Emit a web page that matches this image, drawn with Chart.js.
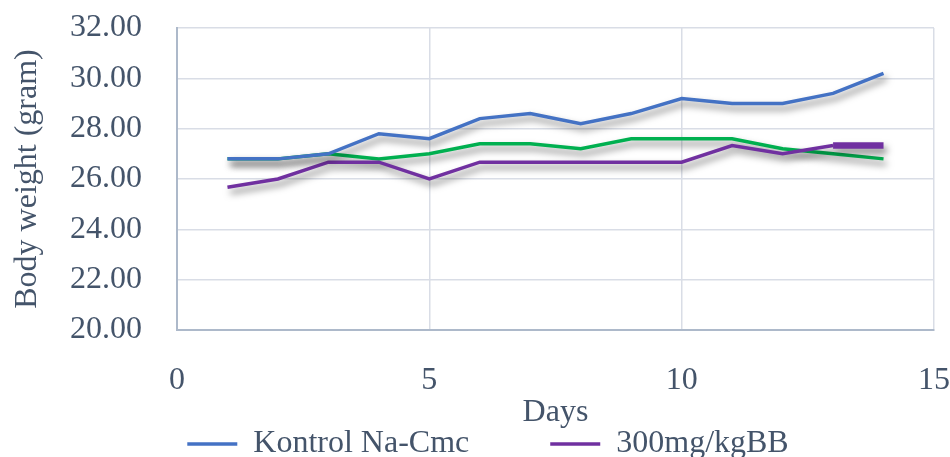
<!DOCTYPE html>
<html>
<head>
<meta charset="utf-8">
<script src="https://cdn.jsdelivr.net/npm/chart.js@4/dist/chart.umd.min.js"></script>
<style>
  html, body { margin: 0; padding: 0; background: #ffffff; overflow: hidden; }
  #wrap { width: 950px; height: 457px; overflow: hidden; position: relative; }
  canvas { display: block; }
</style>
</head>
<body>
<div id="wrap"><canvas id="c" width="950" height="457"></canvas></div>
<script>
// ---- data ----
const days = [1, 2, 3, 4, 5, 6, 7, 8, 9, 10, 11, 12, 13, 14];
const kontrolNaCmc = [26.8, 26.8, 27.0, 27.8, 27.6, 28.4, 28.6, 28.2, 28.6, 29.2, 29.0, 29.0, 29.4, 30.2];
const dose300 = [25.67, 26.0, 26.67, 26.67, 26.0, 26.67, 26.67, 26.67, 26.67, 26.67, 27.33, 27.0, 27.33, 27.33];
const series3 = [26.8, 26.8, 27.0, 26.8, 27.0, 27.4, 27.4, 27.2, 27.6, 27.6, 27.6, 27.2, 27.0, 26.8];
const seriesLabels = ['Kontrol Na-Cmc', '300mg/kgBB', 'Seri 3'];
const yTicks = [20, 22, 24, 26, 28, 30, 32];
const xTicks = [0, 5, 10, 15];
const xTitle = 'Days';
const yTitle = 'Body weight (gram)';

const toXY = arr => arr.map((v, i) => ({ x: days[i], y: v }));

const textColor = '#44546A';
const fontFam = '"Liberation Serif", "Times New Roman", serif';
const FS = 32;

const shadowPlugin = {
  id: 'lineShadow',
  beforeDatasetDraw(chart) {
    const ctx = chart.ctx;
    ctx.save();
    ctx.shadowColor = 'rgba(0,0,0,0.5)';
    ctx.shadowBlur = 7;
    ctx.shadowOffsetX = 3;
    ctx.shadowOffsetY = 5;
  },
  afterDatasetDraw(chart) {
    chart.ctx.restore();
  }
};

const legendShift = {
  id: 'legendShift',
  afterLayout(chart) {
    const lg = chart.legend;
    if (lg) {
      lg.top = 444 - 81 - FS / 2;
      lg.left += 12;
      lg.right += 12;
    }
  }
};

new Chart(document.getElementById('c'), {
  type: 'line',
  data: {
    datasets: [
      {
        label: seriesLabels[0],
        data: toXY(kontrolNaCmc),
        borderColor: '#4472C4',
        backgroundColor: '#4472C4',
        borderWidth: 3.5,
        pointRadius: 0,
        tension: 0
      },
      {
        label: seriesLabels[1],
        data: toXY(dose300),
        borderColor: '#7030A0',
        backgroundColor: '#7030A0',
        borderWidth: 3.5,
        pointRadius: 0,
        tension: 0,
        segment: { borderWidth: c => (c.p0DataIndex === 12 ? 6.5 : 3.5) }
      },
      {
        label: seriesLabels[2],
        data: toXY(series3),
        borderColor: '#00B050',
        backgroundColor: '#00B050',
        borderWidth: 3.5,
        pointRadius: 0,
        tension: 0
      }
    ]
  },
  options: {
    responsive: false,
    animation: false,
    devicePixelRatio: 1,
    layout: { padding: { left: 2, right: 0, top: 28, bottom: 0 } },
    plugins: {
      tooltip: { enabled: false },
      legend: {
        position: 'bottom',
        align: 'center',
        maxHeight: 28,
        labels: {
          filter: item => item.datasetIndex < 2,
          usePointStyle: true,
          pointStyle: 'line',
          pointStyleWidth: 50,
          padding: 81,
          color: textColor,
          font: { family: fontFam, size: FS, lineHeight: 1 }
        }
      }
    },
    scales: {
      x: {
        type: 'linear',
        min: 0,
        max: 15,
        afterBuildTicks: s => { s.ticks = xTicks.map(v => ({ value: v })); },
        ticks: {
          padding: 0,
          color: textColor,
          font: { family: fontFam, size: FS, lineHeight: 1 },
          maxRotation: 0
        },
        grid: { color: '#D9DDE6', lineWidth: 1.5, drawTicks: true, tickLength: 35, tickColor: 'rgba(0,0,0,0)' },
        border: { color: '#ADB9CA', width: 2 },
        title: {
          display: true,
          text: xTitle,
          color: textColor,
          font: { family: fontFam, size: FS, lineHeight: 1 },
          padding: { top: 0, bottom: 0 }
        }
      },
      y: {
        type: 'linear',
        min: 20,
        max: 32,
        afterBuildTicks: s => { s.ticks = yTicks.map(v => ({ value: v })); },
        ticks: {
          padding: 0,
          color: textColor,
          font: { family: fontFam, size: FS, lineHeight: 1 },
          callback: v => Number(v).toFixed(2)
        },
        grid: { color: '#D9DDE6', lineWidth: 1.5, drawTicks: true, tickLength: 35, tickColor: 'rgba(0,0,0,0)' },
        border: { color: '#ADB9CA', width: 2 },
        title: {
          display: true,
          text: yTitle,
          color: textColor,
          font: { family: fontFam, size: FS, lineHeight: 1 },
          padding: { top: 10, bottom: 26 }
        }
      }
    }
  },
  plugins: [shadowPlugin, legendShift]
});
</script>
</body>
</html>
